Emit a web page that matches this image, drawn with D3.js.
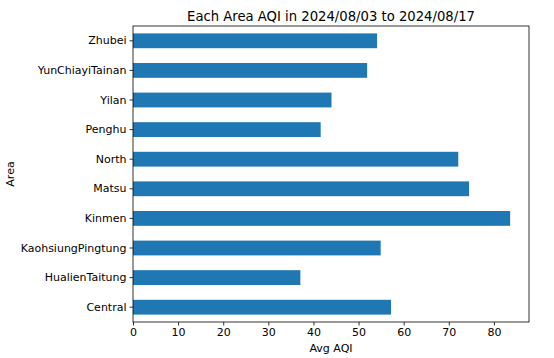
<!DOCTYPE html>
<html><head><meta charset="utf-8">
<script src="https://cdn.jsdelivr.net/npm/d3@7"></script>
<style>body{margin:0;background:#fff}text{font-family:"DejaVu Sans",sans-serif;fill:#000}</style>
</head><body><svg id="c" width="554" height="358"></svg>
<script>
const areas = ["Central","HualienTaitung","KaohsiungPingtung","Kinmen","Matsu","North","Penghu","Yilan","YunChiayiTainan","Zhubei"];
const avgAQI = [57.2,37.1,54.9,83.6,74.5,72.1,41.6,44.0,51.9,54.1];
const xTicks = [0,10,20,30,40,50,60,70,80];

const svg = d3.select("#c");
const m = {l:133, r:25, t:26, b:36};
const W = 554, H = 358;
const x = d3.scaleLinear().domain([0, d3.max(avgAQI)*1.05]).range([m.l, W-m.r]);
const y = d3.scaleBand().domain(areas.slice().reverse()).range([m.t, H-m.b]).paddingInner(0.5).paddingOuter(0.25);

svg.append("g").selectAll("rect").data(areas).join("rect")
  .attr("x", x(0)).attr("y", d=>y(d)).attr("height", y.bandwidth())
  .attr("width", (d,i)=>x(avgAQI[i])-x(0)).attr("fill","#1f77b4");

svg.append("rect").attr("x",m.l).attr("y",m.t).attr("width",W-m.r-m.l).attr("height",H-m.b-m.t)
  .attr("fill","none").attr("stroke","#000").attr("stroke-width",0.8);

const xa = svg.append("g").attr("transform",`translate(0,${H-m.b})`)
  .call(d3.axisBottom(x).tickValues(xTicks).tickSize(3.5).tickPadding(3));
const ya = svg.append("g").attr("transform",`translate(${m.l},0)`)
  .call(d3.axisLeft(y).tickSize(3.5).tickPadding(3));
[xa,ya].forEach(a=>{a.select(".domain").remove();a.selectAll("line").attr("stroke","#000").attr("stroke-width",0.8);a.selectAll("text").attr("font-size",11).attr("font-family","DejaVu Sans");});

svg.append("text").attr("x",(m.l+W-m.r)/2).attr("y",21).attr("text-anchor","middle").attr("font-size",13.2).text("Each Area AQI in 2024/08/03 to 2024/08/17");
svg.append("text").attr("x",(m.l+W-m.r)/2).attr("y",352).attr("text-anchor","middle").attr("font-size",11).text("Avg AQI");
svg.append("text").attr("transform",`translate(14,${(m.t+H-m.b)/2}) rotate(-90)`).attr("text-anchor","middle").attr("font-size",11).text("Area");
</script></body></html>
